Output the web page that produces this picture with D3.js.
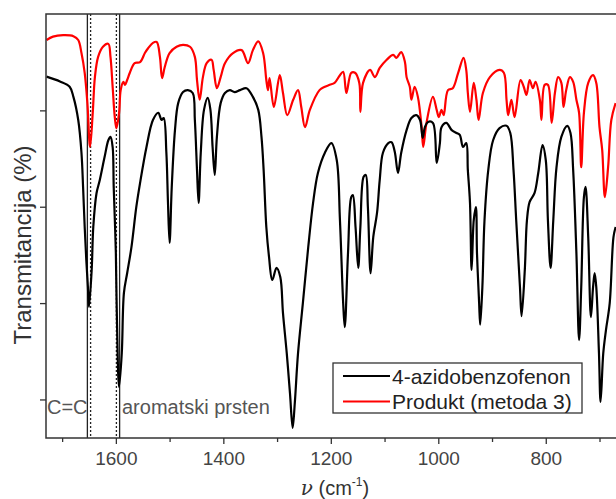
<!DOCTYPE html>
<meta charset="utf-8">
<title>IR spektar</title>
<script src="https://d3js.org/d3.v7.min.js"></script>
<style>
	body { margin: 0; background: #fff; font-family: "Liberation Sans", Arial, sans-serif; }
	svg { display: block; }
	.tick text { fill: #444; }
</style>
<div id="chart"></div>
<script>

// x: valni broj (cm-1), y: transmitancija (proizvoljne jedinice)
var azidobenzofenon = [
	[1729,77.0],[1704,76.0],[1686,74.9],[1679,72.8],[1670,68.0],[1664,61.2],[1661,54.1],[1658,45.8],
	[1655,38.9],[1652,33.3],[1650,29.2],[1645,36.9],[1642,45.8],[1636,52.8],[1630,55.5],[1621,60.3],
	[1614,63.8],[1610,64.5],[1606,62.4],[1604,54.1],[1600,40.4],[1598,26.5],[1594,12.6],[1589,19.6],
	[1585,32.1],[1579,36.2],[1571,41.6],[1562,49.9],[1555,54.9],[1543,62.4],[1531,68.0],[1521,69.5],
	[1515,68.0],[1511,68.4],[1506,61.2],[1503,50.8],[1500,42.5],[1496,54.1],[1490,65.9],[1484,71.5],
	[1475,73.8],[1466,74.2],[1457,73.6],[1453,68.0],[1449,57.6],[1446,50.8],[1442,61.2],[1436,70.1],
	[1429,72.6],[1424,70.1],[1420,62.4],[1416,56.6],[1412,64.5],[1405,71.5],[1397,73.6],[1388,74.2],
	[1379,73.8],[1369,74.2],[1357,74.6],[1345,72.8],[1335,70.1],[1329,64.5],[1325,57.6],[1320,45.8],
	[1315,39.6],[1309,34.8],[1301,37.3],[1294,35.4],[1289,27.9],[1282,19.6],[1276,11.3],[1271,4.1],
	[1267,9.3],[1261,19.6],[1252,30.0],[1242,41.6],[1233,50.8],[1224,57.0],[1211,61.2],[1199,63.2],
	[1189,59.7],[1183,47.2],[1177,30.0],[1174,25.0],[1168,40.4],[1162,52.0],[1159,52.4],[1154,45.8],
	[1149,37.3],[1145,45.8],[1139,56.2],[1135,56.6],[1131,49.9],[1126,36.2],[1121,43.7],[1114,48.7],
	[1109,55.5],[1103,61.2],[1093,63.2],[1087,63.4],[1081,61.4],[1075,57.0],[1069,61.2],[1059,65.9],
	[1050,68.4],[1041,69.0],[1034,68.0],[1029,64.3],[1025,66.5],[1019,67.6],[1010,67.4],[1003,59.1],
	[997,63.2],[994,66.5],[985,67.4],[975,65.9],[966,65.3],[960,64.9],[954,62.4],[948,63.2],
	[945,57.6],[941,50.8],[938,36.9],[934,47.2],[930,49.9],[928,40.4],[924,30.0],[922,25.5],
	[918,33.3],[914,47.2],[907,57.6],[898,63.8],[886,66.3],[873,66.8],[866,65.3],[860,57.6],
	[855,47.2],[848,33.3],[845,27.3],[839,36.9],[835,47.2],[830,51.0],[821,52.8],[814,57.0],
	[806,62.8],[800,59.7],[796,47.2],[791,37.3],[786,47.2],[780,58.2],[771,64.5],[760,66.8],
	[754,65.3],[749,57.6],[743,40.4],[738,22.3],[734,33.3],[729,52.0],[726,54.1],[721,43.7],
	[716,27.1],[712,33.3],[709,36.2],[706,33.3],[701,19.6],[698,9.5],[693,19.6],[688,24.4],
	[681,30.0],[674,43.7],[670,45.8]
];

var produkt = [
	[1729,84.6],[1717,85.3],[1698,85.6],[1679,85.4],[1670,84.6],[1664,81.9],[1658,77.8],[1653,71.5],
	[1648,62.4],[1643,69.5],[1639,76.9],[1633,81.1],[1624,83.2],[1614,83.8],[1610,81.1],[1606,74.9],
	[1602,68.6],[1599,66.3],[1594,69.5],[1591,74.2],[1586,75.9],[1583,75.3],[1579,76.3],[1574,77.8],
	[1565,79.8],[1555,80.0],[1546,81.9],[1540,82.9],[1531,84.0],[1524,84.2],[1518,81.1],[1514,76.7],
	[1509,79.0],[1500,81.9],[1487,83.2],[1475,83.6],[1462,83.2],[1453,81.1],[1449,76.3],[1444,72.2],
	[1438,76.9],[1431,79.8],[1422,80.5],[1418,78.4],[1412,74.6],[1405,76.9],[1397,79.8],[1382,81.9],
	[1366,82.5],[1354,79.8],[1345,82.5],[1335,84.3],[1326,81.9],[1320,76.3],[1317,74.2],[1314,76.7],
	[1306,70.7],[1295,77.3],[1289,73.6],[1281,69.0],[1270,72.2],[1261,74.2],[1255,70.7],[1248,66.5],
	[1239,70.1],[1221,74.2],[1211,74.9],[1202,75.3],[1193,75.7],[1183,77.3],[1177,78.0],[1171,73.6],
	[1162,77.8],[1155,77.8],[1147,75.7],[1145,69.7],[1140,75.7],[1127,78.4],[1118,76.9],[1109,78.8],
	[1096,80.5],[1084,81.5],[1078,80.9],[1069,82.1],[1062,80.0],[1059,76.9],[1053,74.9],[1050,72.2],
	[1044,74.9],[1038,72.8],[1031,66.5],[1028,62.4],[1022,67.4],[1010,72.8],[1003,70.1],[999,68.6],
	[994,70.1],[990,69.0],[982,74.2],[973,74.6],[963,77.8],[953,80.9],[948,78.4],[945,73.6],
	[941,69.7],[934,75.7],[929,72.2],[925,68.0],[917,73.6],[904,76.9],[886,78.4],[878,77.8],
	[873,72.2],[870,69.0],[864,72.2],[858,68.6],[847,76.3],[841,74.9],[836,73.2],[830,76.3],
	[824,74.6],[819,75.9],[811,72.2],[808,68.0],[802,75.3],[796,75.3],[789,67.4],[783,73.6],
	[777,76.9],[771,75.7],[767,70.7],[762,74.2],[755,76.9],[749,75.9],[743,72.2],[738,69.5],
	[734,58.2],[729,69.5],[721,75.7],[712,77.3],[706,75.7],[700,66.5],[695,61.8],[690,52.0],
	[684,58.2],[678,68.0],[670,71.5]
];

var majorTicks = [1600, 1400, 1200, 1000, 800];
var minorTicks = [1700, 1500, 1300, 1100, 900, 700];
var yTicks = [10, 30, 50, 70];
var solidMarks = [1653, 1593];
var dottedMarks = [1647, 1599];
var legendNames = ["4-azidobenzofenon", "Produkt (metoda 3)"];
var seriesColors = ["#000000", "#ff0000"];

var width = 616, height = 499;
var mLeft = 46, mTop = 14, mRight = 621, mBottom = 438;

var svg = d3.select("#chart").append("svg")
	.attr("width", width)
	.attr("height", height)
	.style("font-family", "'Liberation Sans', Arial, sans-serif");

var x = d3.scaleLinear().domain([1730, 660]).range([mLeft, mRight]);
var y = d3.scaleLinear().domain([2, 90]).range([mBottom, mTop]);

svg.append("clipPath").attr("id", "plot-clip")
	.append("rect")
	.attr("x", mLeft).attr("y", mTop)
	.attr("width", mRight - mLeft).attr("height", mBottom - mTop);

// markeri za C=C i aromatski prsten
var marks = svg.append("g");
marks.selectAll(".solid")
	.data(solidMarks)
	.enter().append("line")
	.attr("x1", function(d){ return x(d); }).attr("x2", function(d){ return x(d); })
	.attr("y1", mTop).attr("y2", mBottom)
	.attr("stroke", "#222").attr("stroke-width", 1.3);
marks.selectAll(".dotted")
	.data(dottedMarks)
	.enter().append("line")
	.attr("x1", function(d){ return x(d); }).attr("x2", function(d){ return x(d); })
	.attr("y1", mTop).attr("y2", mBottom)
	.attr("stroke", "#222").attr("stroke-width", 1.3)
	.attr("stroke-dasharray", "2,2");

var line = d3.line()
	.x(function(d){ return x(d[0]); })
	.y(function(d){ return y(d[1]); })
	.curve(d3.curveCatmullRom.alpha(0.5));

var plot = svg.append("g").attr("clip-path", "url(#plot-clip)");
[produkt, azidobenzofenon].forEach(function(s, i) {
	plot.append("path")
		.datum(s)
		.attr("fill", "none")
		.attr("stroke", i == 0 ? seriesColors[1] : seriesColors[0])
		.attr("stroke-width", 2.2)
		.attr("stroke-linejoin", "round")
		.attr("d", line);
});

// okvir
svg.append("rect")
	.attr("x", mLeft).attr("y", mTop)
	.attr("width", mRight - mLeft).attr("height", mBottom - mTop)
	.attr("fill", "none")
	.attr("stroke", "#333")
	.attr("stroke-width", 1.5);

// osi
var xMajor = svg.append("g")
	.attr("transform", "translate(0," + mBottom + ")")
	.call(d3.axisBottom(x).tickValues(majorTicks).tickSize(6).tickPadding(8).tickFormat(d3.format("d")));
xMajor.select(".domain").remove();
xMajor.selectAll("text").attr("font-size", 19).attr("font-family", "'Liberation Sans', Arial, sans-serif");
xMajor.selectAll("line").attr("stroke", "#333").attr("stroke-width", 1.3);

var xMinor = svg.append("g")
	.attr("transform", "translate(0," + mBottom + ")")
	.call(d3.axisBottom(x).tickValues(minorTicks).tickSize(4).tickFormat(""));
xMinor.select(".domain").remove();
xMinor.selectAll("line").attr("stroke", "#333").attr("stroke-width", 1.3);

var yAxis = svg.append("g")
	.attr("transform", "translate(" + mLeft + ",0)")
	.call(d3.axisLeft(y).tickValues(yTicks).tickSize(6).tickFormat(""));
yAxis.select(".domain").remove();
yAxis.selectAll("line").attr("stroke", "#333").attr("stroke-width", 1.3);

// natpisi osi
svg.append("text")
	.attr("transform", "translate(31,245) rotate(-90)")
	.attr("text-anchor", "middle")
	.attr("font-size", 24)
	.attr("fill", "#333")
	.text("Transmitancija (%)");

var xl = svg.append("text")
	.attr("x", 335).attr("y", 495)
	.attr("text-anchor", "middle")
	.attr("font-size", 20)
	.attr("fill", "#333");
xl.append("tspan").attr("font-style", "italic").attr("font-family", "'DejaVu Serif', serif").text("ν");
xl.append("tspan").text(" (cm");
xl.append("tspan").attr("font-size", 12).attr("dy", -9).text("-1");
xl.append("tspan").attr("dy", 9).text(")");

// oznake traka
svg.append("text")
	.attr("x", 47).attr("y", 414)
	.attr("font-size", 20)
	.attr("fill", "#555")
	.text("C=C");
svg.append("text")
	.attr("x", 122).attr("y", 414)
	.attr("font-size", 20)
	.attr("fill", "#555")
	.text("aromatski prsten");

// legenda
var legend = svg.append("g");
legend.append("rect")
	.attr("x", 333).attr("y", 363)
	.attr("width", 249).attr("height", 50)
	.attr("fill", "#fff")
	.attr("stroke", "#333")
	.attr("stroke-width", 1.3);
legendNames.forEach(function(name, i) {
	var ly = 376 + i * 25.5;
	legend.append("line")
		.attr("x1", 343).attr("x2", 390)
		.attr("y1", ly).attr("y2", ly)
		.attr("stroke", seriesColors[i])
		.attr("stroke-width", 2.2);
	legend.append("text")
		.attr("x", 392).attr("y", ly + 7.5)
		.attr("font-size", 21)
		.attr("fill", "#222")
		.text(name);
});

</script>
